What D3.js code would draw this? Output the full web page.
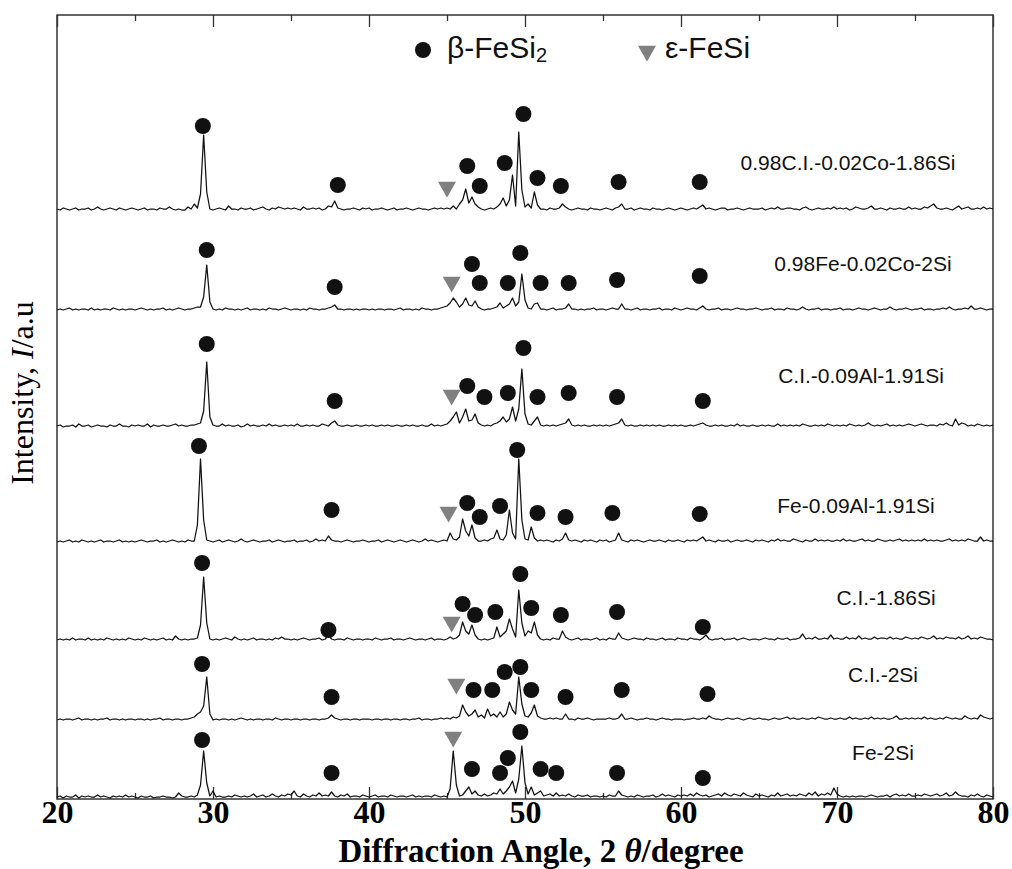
<!DOCTYPE html>
<html>
<head>
<meta charset="utf-8">
<script src="https://cdn.jsdelivr.net/npm/d3@7"></script>
<style>
  body { margin: 0; background: #fff; }
</style>
</head>
<body>
<div id="plotContainer"></div>
<script>
// samples, top trace to bottom trace
const samples = ["0.98C.I.-0.02Co-1.86Si", "0.98Fe-0.02Co-2Si", "C.I.-0.09Al-1.91Si",
  "Fe-0.09Al-1.91Si", "C.I.-1.86Si", "C.I.-2Si", "Fe-2Si"];
// vertical stacking offset of each pattern (a.u.)
const offsets = [587, 487, 370, 254, 156, 77, 0];

// intensities sampled every 0.2 deg from 20 to 80 (rows of 5 deg)
const angleStart = 20, angleStep = 0.2;
const t1 = [
  3,2,4,3,2, 3,4,2,3,3, 4,2,3,5,3, 2,3,4,3,2, 4,3,2,3,4,
  3,2,3,4,2, 3,3,2,4,3, 3,5,3,2,3, 2,2,5,3,8, 4,18,77,20,3,
  2,3,4,3,2, 6,3,3,2,4, 3,3,4,2,3, 4,5,3,2,4, 3,5,4,3,4,
  3,4,3,2,5, 3,3,4,3,4, 2,3,6,5,11, 4,3,2,3,3, 4,3,2,4,3,
  4,2,3,3,4, 3,2,3,4,2, 3,3,4,3,2, 3,4,3,3,2, 3,4,3,4,3,
  4,3,6,3,8, 12,23,9,15,8, 5,3,2,3,4, 3,5,8,14,6, 12,37,6,80,22,
  5,8,4,20,7, 3,3,2,4,3, 3,4,8,5,3, 2,3,4,3,3, 2,4,3,3,2,
  3,4,3,2,4, 5,8,3,3,4, 2,3,4,3,3, 2,4,3,3,2, 3,4,3,2,3,
  4,3,2,3,4, 3,5,7,3,4, 3,2,3,4,4, 2,3,3,4,3, 2,3,4,3,3,
  3,4,2,3,4, 3,5,3,3,4, 4,3,3,2,4, 5,3,2,3,4, 3,3,4,3,5,
  3,4,3,4,2, 3,5,4,3,3, 4,6,3,3,4, 3,2,4,3,3, 4,3,3,5,3,
  4,3,3,5,4, 6,8,4,3,3, 4,3,2,4,6, 3,4,5,3,3, 4,3,5,3,4,
  3];
const t2 = [
  2,3,2,3,4, 2,3,2,3,3, 2,4,2,3,2, 3,3,2,4,3, 2,3,2,3,3,
  2,3,4,3,2, 3,2,3,3,4, 2,3,2,3,4, 3,2,3,3,4, 5,5,15,47,10,
  3,2,3,2,4, 3,3,2,3,2, 3,4,2,3,3, 2,3,2,4,3, 3,2,3,4,3,
  2,3,3,2,3, 2,4,3,3,2, 3,3,4,5,7, 3,3,2,3,3, 2,3,2,3,3,
  2,3,2,3,3, 2,3,3,2,3, 4,2,3,3,2, 3,2,4,3,3, 2,3,3,4,5,
  6,9,14,10,5, 8,14,7,6,11, 5,3,2,3,3, 4,5,9,4,6, 8,14,6,10,38,
  12,4,3,8,9, 3,3,2,3,4, 2,3,3,4,8, 3,3,2,3,2, 3,3,4,2,3,
  3,2,3,4,3, 3,8,3,3,2, 3,4,2,3,3, 2,3,3,4,2, 3,3,2,4,3,
  2,3,4,3,3, 2,4,6,3,2, 3,3,4,2,3, 3,2,3,4,3, 3,2,3,3,4,
  3,2,3,3,4, 2,3,3,2,4, 3,3,2,3,5, 3,2,3,3,4, 2,3,3,2,3,
  3,4,2,3,3, 2,3,4,3,3, 2,3,4,3,2, 3,3,5,3,2, 3,3,4,3,2,
  3,3,4,2,3, 3,2,3,3,4, 3,5,3,2,3, 3,4,3,6,3, 3,4,3,2,3,
  3];
const t3 = [
  3,4,2,3,3, 4,2,5,3,3, 4,2,3,4,3, 3,2,4,3,3, 5,3,3,2,4,
  3,4,3,3,5, 2,4,3,3,4, 3,3,4,5,3, 4,3,3,4,4, 5,6,18,67,12,
  4,3,3,5,3, 4,3,3,4,2, 3,5,3,4,3, 3,4,3,5,3, 4,3,3,4,3,
  4,3,5,3,3, 4,3,4,3,3, 5,4,3,6,8, 4,3,3,4,3, 3,4,3,3,4,
  3,4,3,3,4, 3,4,3,3,4, 3,3,4,3,4, 3,3,4,3,3, 5,3,4,3,4,
  5,8,12,17,6, 12,20,8,9,15, 6,4,3,4,3, 5,6,8,12,7, 10,22,8,20,60,
  15,5,4,8,12, 4,3,4,3,4, 3,4,5,6,10, 4,3,4,3,4, 3,3,4,3,4,
  3,4,3,4,5, 6,10,4,3,4, 3,3,4,3,4, 3,4,3,4,3, 3,4,3,4,3,
  4,3,3,4,3, 4,5,6,4,3, 3,4,3,4,3, 3,4,3,5,3, 4,3,3,4,3,
  3,4,3,4,3, 3,5,3,4,3, 4,3,4,3,5, 4,3,3,4,3, 4,3,5,4,3,
  4,3,4,3,5, 4,3,4,3,4, 6,4,3,4,3, 4,5,3,4,3, 4,3,4,5,4,
  3,4,5,4,3, 4,4,3,5,4, 6,4,3,10,4, 6,5,3,4,3, 5,4,3,4,3,
  4];
const t4 = [
  3,4,3,4,5, 3,4,3,5,4, 3,4,3,4,5, 3,4,4,3,4, 5,3,4,3,4,
  3,4,5,4,3, 4,4,5,3,4, 3,4,5,4,3, 4,3,5,4,4, 20,86,25,5,4,
  3,4,5,3,4, 5,4,3,4,6, 4,3,4,5,4, 3,4,4,5,3, 4,5,4,3,4,
  4,5,3,4,4, 5,3,4,6,4, 5,4,9,5,4, 4,3,4,5,4, 3,4,4,5,4,
  3,4,4,5,3, 4,5,4,3,4, 5,4,3,4,5, 4,3,4,6,4, 5,4,3,4,5,
  4,12,6,5,8, 26,14,9,20,7, 4,4,5,4,6, 7,15,6,5,10, 35,12,6,86,25,
  6,5,18,7,4, 5,4,5,4,3, 5,4,6,12,5, 4,5,4,3,5, 4,5,4,3,5,
  4,5,3,4,5, 12,5,4,3,5, 4,5,4,3,4, 5,4,4,5,4, 3,5,4,4,5,
  4,3,5,4,5, 4,6,8,4,5, 4,3,5,4,4, 5,3,4,5,4, 4,5,4,3,5,
  4,5,4,3,5, 4,6,4,5,4, 4,6,5,4,3, 5,4,4,6,4, 5,4,5,4,4,
  5,4,6,4,5, 4,4,5,6,4, 5,4,4,6,5, 4,4,5,4,5, 6,4,5,4,5,
  4,5,4,6,4, 5,4,5,4,4, 5,6,4,5,4, 5,4,6,5,4, 4,8,4,5,4,
  4];
const t5 = [
  3,4,3,4,3, 5,3,4,4,3, 5,3,4,3,4, 3,5,4,3,4, 3,4,3,5,4,
  3,4,3,5,4, 3,4,3,4,5, 3,4,3,7,4, 3,4,3,4,4, 5,18,66,20,4,
  3,4,3,4,5, 4,3,6,4,3, 4,3,4,5,3, 4,4,3,4,3, 5,4,6,4,4,
  3,4,3,4,5, 4,3,4,4,5, 3,4,8,4,3, 4,4,3,5,4, 3,4,4,3,4,
  4,3,5,4,3, 4,4,5,3,4, 4,3,4,5,4, 3,4,4,3,4, 5,3,4,4,3,
  4,6,4,5,8, 21,12,9,18,8, 4,3,4,3,4, 5,16,6,9,12, 24,14,6,53,20,
  7,12,10,21,8, 4,3,4,3,5, 4,4,12,6,4, 3,4,5,3,4, 4,3,4,5,3,
  4,3,5,4,4, 10,5,4,3,4, 5,4,4,3,5, 4,4,3,4,5, 3,4,4,3,5,
  4,4,3,5,4, 4,3,5,8,4, 3,4,4,5,3, 4,4,5,3,4, 5,4,3,4,4,
  3,4,5,4,4, 3,5,4,4,5, 3,4,4,5,9, 4,5,4,6,4, 4,5,4,8,4,
  5,4,4,6,4, 5,4,7,4,5, 4,4,6,4,5, 5,4,6,4,5, 4,4,6,5,4,
  5,4,6,5,4, 5,7,4,5,4, 6,5,5,4,6, 4,5,7,4,5, 4,6,5,4,4,
  3];
const t6 = [
  2,3,2,3,3, 2,3,4,2,3, 3,2,3,2,3, 3,4,2,3,3, 2,3,2,3,3,
  2,3,3,2,3, 2,3,3,4,2, 3,3,2,3,3, 2,3,3,4,5, 8,10,16,45,8,
  2,3,2,3,3, 2,3,2,3,4, 3,2,3,2,3, 3,2,3,3,2, 4,3,2,3,3,
  2,3,3,2,3, 3,2,3,3,2, 3,3,4,7,4, 3,2,3,3,2, 3,3,2,3,3,
  3,2,3,3,2, 3,3,2,3,3, 2,3,3,2,3, 3,4,2,3,3, 2,3,3,4,3,
  4,3,5,4,6, 17,10,6,8,12, 5,7,4,13,6, 8,5,10,5,8, 20,12,8,45,18,
  6,5,9,17,6, 4,3,3,4,3, 4,3,3,8,3, 3,2,4,3,3, 4,3,2,3,3,
  3,3,4,3,3, 4,8,3,3,4, 3,2,3,3,4, 3,3,2,3,4, 3,3,2,3,3,
  3,2,3,3,4, 3,3,4,3,6, 4,3,3,2,3, 4,3,3,4,3, 2,3,4,3,3,
  4,3,3,2,3, 4,3,3,4,5, 3,4,3,3,4, 3,3,4,3,5, 4,3,3,4,3,
  3,4,3,3,5, 3,4,3,3,4, 3,5,3,4,3, 4,3,3,4,6, 3,3,4,3,4,
  3,4,3,5,3, 4,3,3,4,3, 5,4,3,4,3, 3,6,4,3,4, 3,7,5,4,3,
  4];
const t7 = [
  2,3,1,3,2, 2,4,1,3,2, 3,2,2,4,2, 3,2,1,3,2, 3,2,4,2,3,
  2,1,3,2,2, 3,1,2,2,3, 2,2,1,2,6, 3,2,2,3,2, 4,14,48,16,3,
  8,2,3,2,2, 3,2,4,3,2, 3,2,3,5,2, 3,4,2,3,5, 3,2,4,3,5,
  4,8,3,2,5, 3,2,4,3,6, 3,4,3,7,3, 2,4,3,5,2, 3,3,2,4,3,
  2,3,4,2,3, 3,2,4,3,2, 3,3,2,3,4, 2,3,2,3,3, 2,4,3,2,3,
  2,10,48,14,3, 4,8,12,5,8, 4,3,5,3,4, 6,5,10,5,8, 12,18,6,20,53,
  16,5,12,4,6, 8,3,4,5,3, 6,3,4,3,5, 3,2,4,3,3, 4,2,3,3,2,
  3,2,4,3,3, 8,4,3,2,3, 2,4,3,2,3, 3,4,2,3,5, 3,4,3,2,4,
  3,4,3,5,3, 6,4,3,4,2, 3,4,5,3,6, 4,3,5,4,3, 6,4,3,2,5,
  3,4,3,2,4, 3,6,3,4,5, 3,4,3,5,4, 3,6,4,7,3, 5,4,6,4,11,
  5,3,2,3,2, 3,2,3,3,2, 3,4,3,2,3, 3,4,2,4,5, 3,4,3,5,3,
  3,4,3,5,4, 3,4,5,3,4, 6,3,4,7,4, 3,3,2,4,3, 5,3,2,4,3,
  2];
const traces = [t1, t2, t3, t4, t5, t6, t7];

// beta-FeSi2 markers: [angle, height above the trace offset]
const dots1 = [[29.35,86],[38.0,27],[46.3,46],[47.1,26],[48.7,49],[49.9,98],[50.8,34],[52.3,26],[56.0,30],[61.2,30]];
const dots2 = [[29.6,62],[37.8,25],[46.6,48],[47.1,29],[48.9,29],[49.7,59],[51.0,29],[52.8,29],[55.9,32],[61.2,36]];
const dots3 = [[29.6,85],[37.8,28],[46.3,43],[47.4,32],[48.9,36],[49.9,81],[50.8,32],[52.8,36],[55.9,32],[61.4,28]];
const dots4 = [[29.1,99],[37.6,35],[46.3,42],[47.1,28],[48.4,39],[49.5,95],[50.8,32],[52.6,28],[55.6,32],[61.2,31]];
const dots5 = [[29.3,80],[37.4,13],[46.0,39],[46.8,28],[48.1,31],[49.7,69],[50.4,35],[52.3,28],[55.9,31],[61.4,16]];
const dots6 = [[29.3,58],[37.6,25],[46.7,32],[47.9,32],[48.7,50],[49.7,55],[50.4,32],[52.6,25],[56.2,32],[61.7,28]];
const dots7 = [[29.3,59],[37.6,26],[46.6,30],[48.4,26],[48.9,41],[49.7,67],[51.0,30],[52.0,26],[55.9,26],[61.4,21]];
const dots = [dots1, dots2, dots3, dots4, dots5, dots6, dots7];

// epsilon-FeSi markers
const triAngles = [45.0, 45.3, 45.3, 45.1, 45.3, 45.6, 45.4];
const triHeights = [25, 30, 34, 33, 21, 38, 62];

const xTicks = [20, 30, 40, 50, 60, 70, 80];
const xMinorTicks = [25, 35, 45, 55, 65, 75];

// label placement (layout only)
const labelX = [848, 863, 861, 856, 886, 883, 883];
const labelY = [170, 271, 383, 513, 605, 682, 760];

const margin = {top: 15, right: 19, bottom: 70, left: 57},
    width = 1012 - margin.left - margin.right,
    height = 869 - margin.top - margin.bottom;

const root = d3.select("#plotContainer")
  .append("svg")
    .attr("width", 1012)
    .attr("height", 869);

const svg = root.append("g")
    .attr("transform", `translate(${margin.left},${margin.top})`);

const x = d3.scaleLinear().domain([20, 80]).range([0, width]);
const y = d3.scaleLinear().domain([0, height]).range([height, 0]);

const serif = "'Liberation Serif', 'Times New Roman', serif";
const sans = "'Liberation Sans', Arial, sans-serif";

// frame
svg.append("rect")
  .attr("width", width).attr("height", height)
  .attr("fill", "none").attr("stroke", "#333").attr("stroke-width", 1.5);

// bottom axis, ticks pointing inwards
const bottom = svg.append("g")
  .attr("transform", `translate(0,${height})`)
  .call(d3.axisBottom(x).tickValues(xTicks).tickSizeInner(-12).tickSizeOuter(0).tickPadding(1));
bottom.select(".domain").remove();
bottom.selectAll("text")
  .style("font-family", serif).style("font-size", "32px").style("font-weight", "bold").attr("fill", "#000");
svg.append("g")
  .attr("transform", `translate(0,${height})`)
  .call(d3.axisBottom(x).tickValues(xMinorTicks).tickSizeInner(-6).tickSizeOuter(0).tickFormat(""))
  .select(".domain").remove();

// top axis
svg.append("g")
  .call(d3.axisTop(x).tickValues(xTicks).tickSizeInner(-12).tickSizeOuter(0).tickFormat(""))
  .select(".domain").remove();
svg.append("g")
  .call(d3.axisTop(x).tickValues(xMinorTicks).tickSizeInner(-6).tickSizeOuter(0).tickFormat(""))
  .select(".domain").remove();
svg.selectAll(".tick line").attr("stroke", "#333").attr("stroke-width", 1.3);

// patterns
const line = k => d3.line()
  .x((v, i) => x(angleStart + i * angleStep))
  .y(v => y(offsets[k] + v));

svg.append("g").selectAll("path")
  .data(traces)
  .join("path")
    .attr("d", (d, k) => line(k)(d))
    .attr("fill", "none")
    .attr("stroke", "#111")
    .attr("stroke-width", 1.25)
    .attr("stroke-linejoin", "round");

// markers
const dotData = dots.flatMap((list, k) => list.map(p => ({a: p[0], h: offsets[k] + p[1]})));
svg.append("g").selectAll("circle")
  .data(dotData)
  .join("circle")
    .attr("cx", d => x(d.a))
    .attr("cy", d => y(d.h))
    .attr("r", 8)
    .attr("fill", "#111");

const tri = d3.symbol(d3.symbolTriangle, 140);
svg.append("g").selectAll("path")
  .data(triAngles)
  .join("path")
    .attr("d", tri)
    .attr("transform", (a, k) => `translate(${x(a)},${y(offsets[k] + triHeights[k])}) rotate(180)`)
    .attr("fill", "#808080");

// sample labels
root.append("g").selectAll("text")
  .data(samples)
  .join("text")
    .attr("x", (d, k) => labelX[k])
    .attr("y", (d, k) => labelY[k])
    .attr("text-anchor", "middle")
    .style("font-family", sans)
    .style("font-size", "21px")
    .attr("fill", "#111")
    .text(d => d);

// legend
root.append("circle").attr("cx", 423).attr("cy", 50).attr("r", 8).attr("fill", "#111");
const leg1 = root.append("text")
  .attr("x", 447).attr("y", 58)
  .style("font-family", sans).style("font-size", "30px").attr("fill", "#111");
leg1.append("tspan").text("β-FeSi");
leg1.append("tspan").attr("dy", 4).style("font-size", "20px").text("2");

root.append("path")
  .attr("d", tri)
  .attr("transform", "translate(647,51) rotate(180)")
  .attr("fill", "#808080");
root.append("text")
  .attr("x", 665).attr("y", 58)
  .style("font-family", sans).style("font-size", "30px").attr("fill", "#111")
  .text("ε-FeSi");

// axis titles
const xt = root.append("text")
  .attr("x", 541).attr("y", 862)
  .attr("text-anchor", "middle")
  .style("font-family", serif).style("font-size", "33px").style("font-weight", "bold")
  .attr("fill", "#000");
xt.append("tspan").text("Diffraction Angle, 2 ");
xt.append("tspan").style("font-style", "italic").text("θ");
xt.append("tspan").text("/degree");

const yt = root.append("text")
  .attr("transform", "translate(33,393) rotate(-90)")
  .attr("text-anchor", "middle")
  .style("font-family", serif).style("font-size", "32px")
  .attr("fill", "#000");
yt.append("tspan").text("Intensity, ");
yt.append("tspan").style("font-style", "italic").text("I");
yt.append("tspan").text("/a.u");
</script>
</body>
</html>
